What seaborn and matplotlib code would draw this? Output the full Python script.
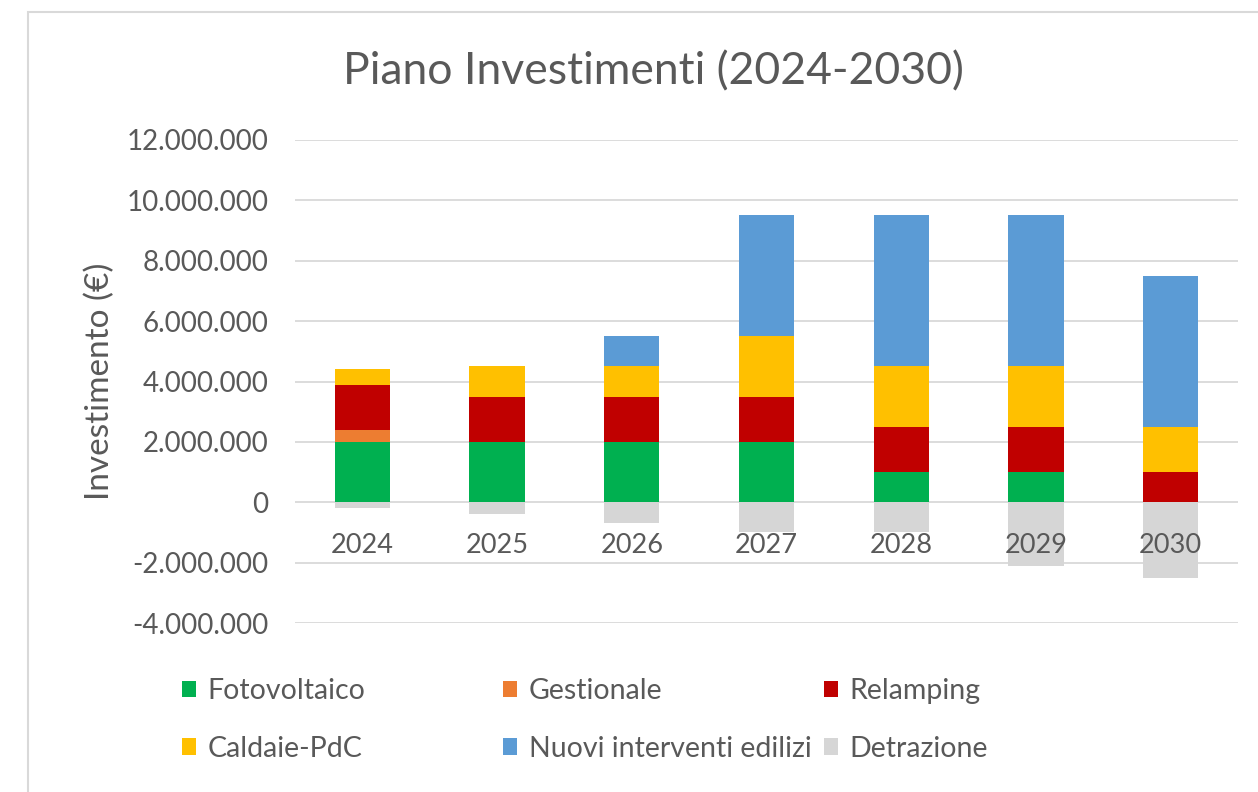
import numpy as np
import matplotlib
matplotlib.use("Agg")
import matplotlib.pyplot as plt
from matplotlib.patches import Patch, Rectangle
from matplotlib.ticker import FuncFormatter, MultipleLocator
import seaborn as sns

# Investment plan by year (euro); "Detrazione" is a deduction, drawn below zero
years = ["2024", "2025", "2026", "2027", "2028", "2029", "2030"]
fotovoltaico = [2_000_000, 2_000_000, 2_000_000, 2_000_000, 1_000_000, 1_000_000, 0]
gestionale = [400_000, 0, 0, 0, 0, 0, 0]
relamping = [1_500_000, 1_500_000, 1_500_000, 1_500_000, 1_500_000, 1_500_000, 1_000_000]
caldaie_pdc = [500_000, 1_000_000, 1_000_000, 2_000_000, 2_000_000, 2_000_000, 1_500_000]
nuovi_interventi = [0, 0, 1_000_000, 4_000_000, 5_000_000, 5_000_000, 5_000_000]
detrazione = [-200_000, -400_000, -700_000, -1_000_000, -1_000_000, -2_100_000, -2_500_000]

series_names = ["Fotovoltaico", "Gestionale", "Relamping", "Caldaie-PdC",
                "Nuovi interventi edilizi", "Detrazione"]
colors = ["#00B050", "#ED7D31", "#C00000", "#FFC000", "#5B9BD5", "#D6D6D6"]

sns.set_theme(style="white")
plt.rcParams["font.family"] = ["Lato", "DejaVu Sans"]
text_color = "#595959"

fig = plt.figure(figsize=(12.58, 7.92), dpi=100)
fig.patch.set_facecolor("white")
ax = fig.add_axes([295 / 1258, 1 - 623 / 792, (1238 - 295) / 1258, (623 - 140) / 792])

# chart-area border
fig.add_artist(Rectangle((28 / 1258, -0.05), 1.1, 1 - 12 / 792 + 0.05,
                         transform=fig.transFigure, fill=False,
                         edgecolor="#D9D9D9", linewidth=1.5))

stack = [fotovoltaico, gestionale, relamping, caldaie_pdc, nuovi_interventi]
bottom = np.zeros(len(years))
for vals, name, col in zip(stack, series_names[:5], colors[:5]):
    sns.barplot(x=years, y=vals, bottom=bottom, color=col, width=0.41,
                saturation=1, ax=ax, linewidth=0, zorder=2)
    bottom = bottom + np.asarray(vals, dtype=float)
sns.barplot(x=years, y=detrazione, color=colors[5], width=0.41,
            saturation=1, ax=ax, linewidth=0, zorder=2)

ax.set_xlim(-0.5, 6.5)
ax.set_ylim(-4_000_000, 12_000_000)
ax.yaxis.set_major_locator(MultipleLocator(2_000_000))
ax.yaxis.set_major_formatter(FuncFormatter(lambda v, p: f"{v:,.0f}".replace(",", ".")))

# horizontal gridlines beneath the bars
ax.grid(False)
for yv in np.arange(-4_000_000, 12_000_001, 2_000_000):
    ax.axhline(yv, color="#D9D9D9", linewidth=1.3, zorder=0)
for s in ax.spines.values():
    s.set_visible(False)

# category labels sit just under the zero line, drawn over the bars
ax.spines["bottom"].set_position(("data", 0))
ax.xaxis.set_zorder(5)
ax.tick_params(axis="x", length=0, pad=22, labelsize=19.5, labelcolor=text_color)
ax.tick_params(axis="y", length=0, pad=19, labelsize=20, labelcolor=text_color)
ax.set_xlabel("")
ax.set_ylabel("Investimento (€)", fontsize=24, color=text_color, labelpad=8)

fig.text(653 / 1258, 1 - 72 / 792, "Piano Investimenti (2024-2030)",
         ha="center", va="center", fontsize=32, color=text_color)

# legend: three columns of equal width, two rows
col_x = [182 / 1258, 503 / 1258, 824 / 1258]
for c in range(3):
    hs, ls = [], []
    for r in range(2):
        i = r * 3 + c
        hs.append(Patch(facecolor=colors[i], edgecolor="none"))
        ls.append(series_names[i])
    leg = fig.legend(hs, ls, loc="center left", bbox_to_anchor=(col_x[c], 1 - 720 / 792),
                     frameon=False, fontsize=20.5, handlelength=0.5, handleheight=0.5,
                     handletextpad=0.4, labelspacing=1.1, borderpad=0, borderaxespad=0)
    for t in leg.get_texts():
        t.set_color(text_color)

fig.savefig("out.png", dpi=100, facecolor="white")
